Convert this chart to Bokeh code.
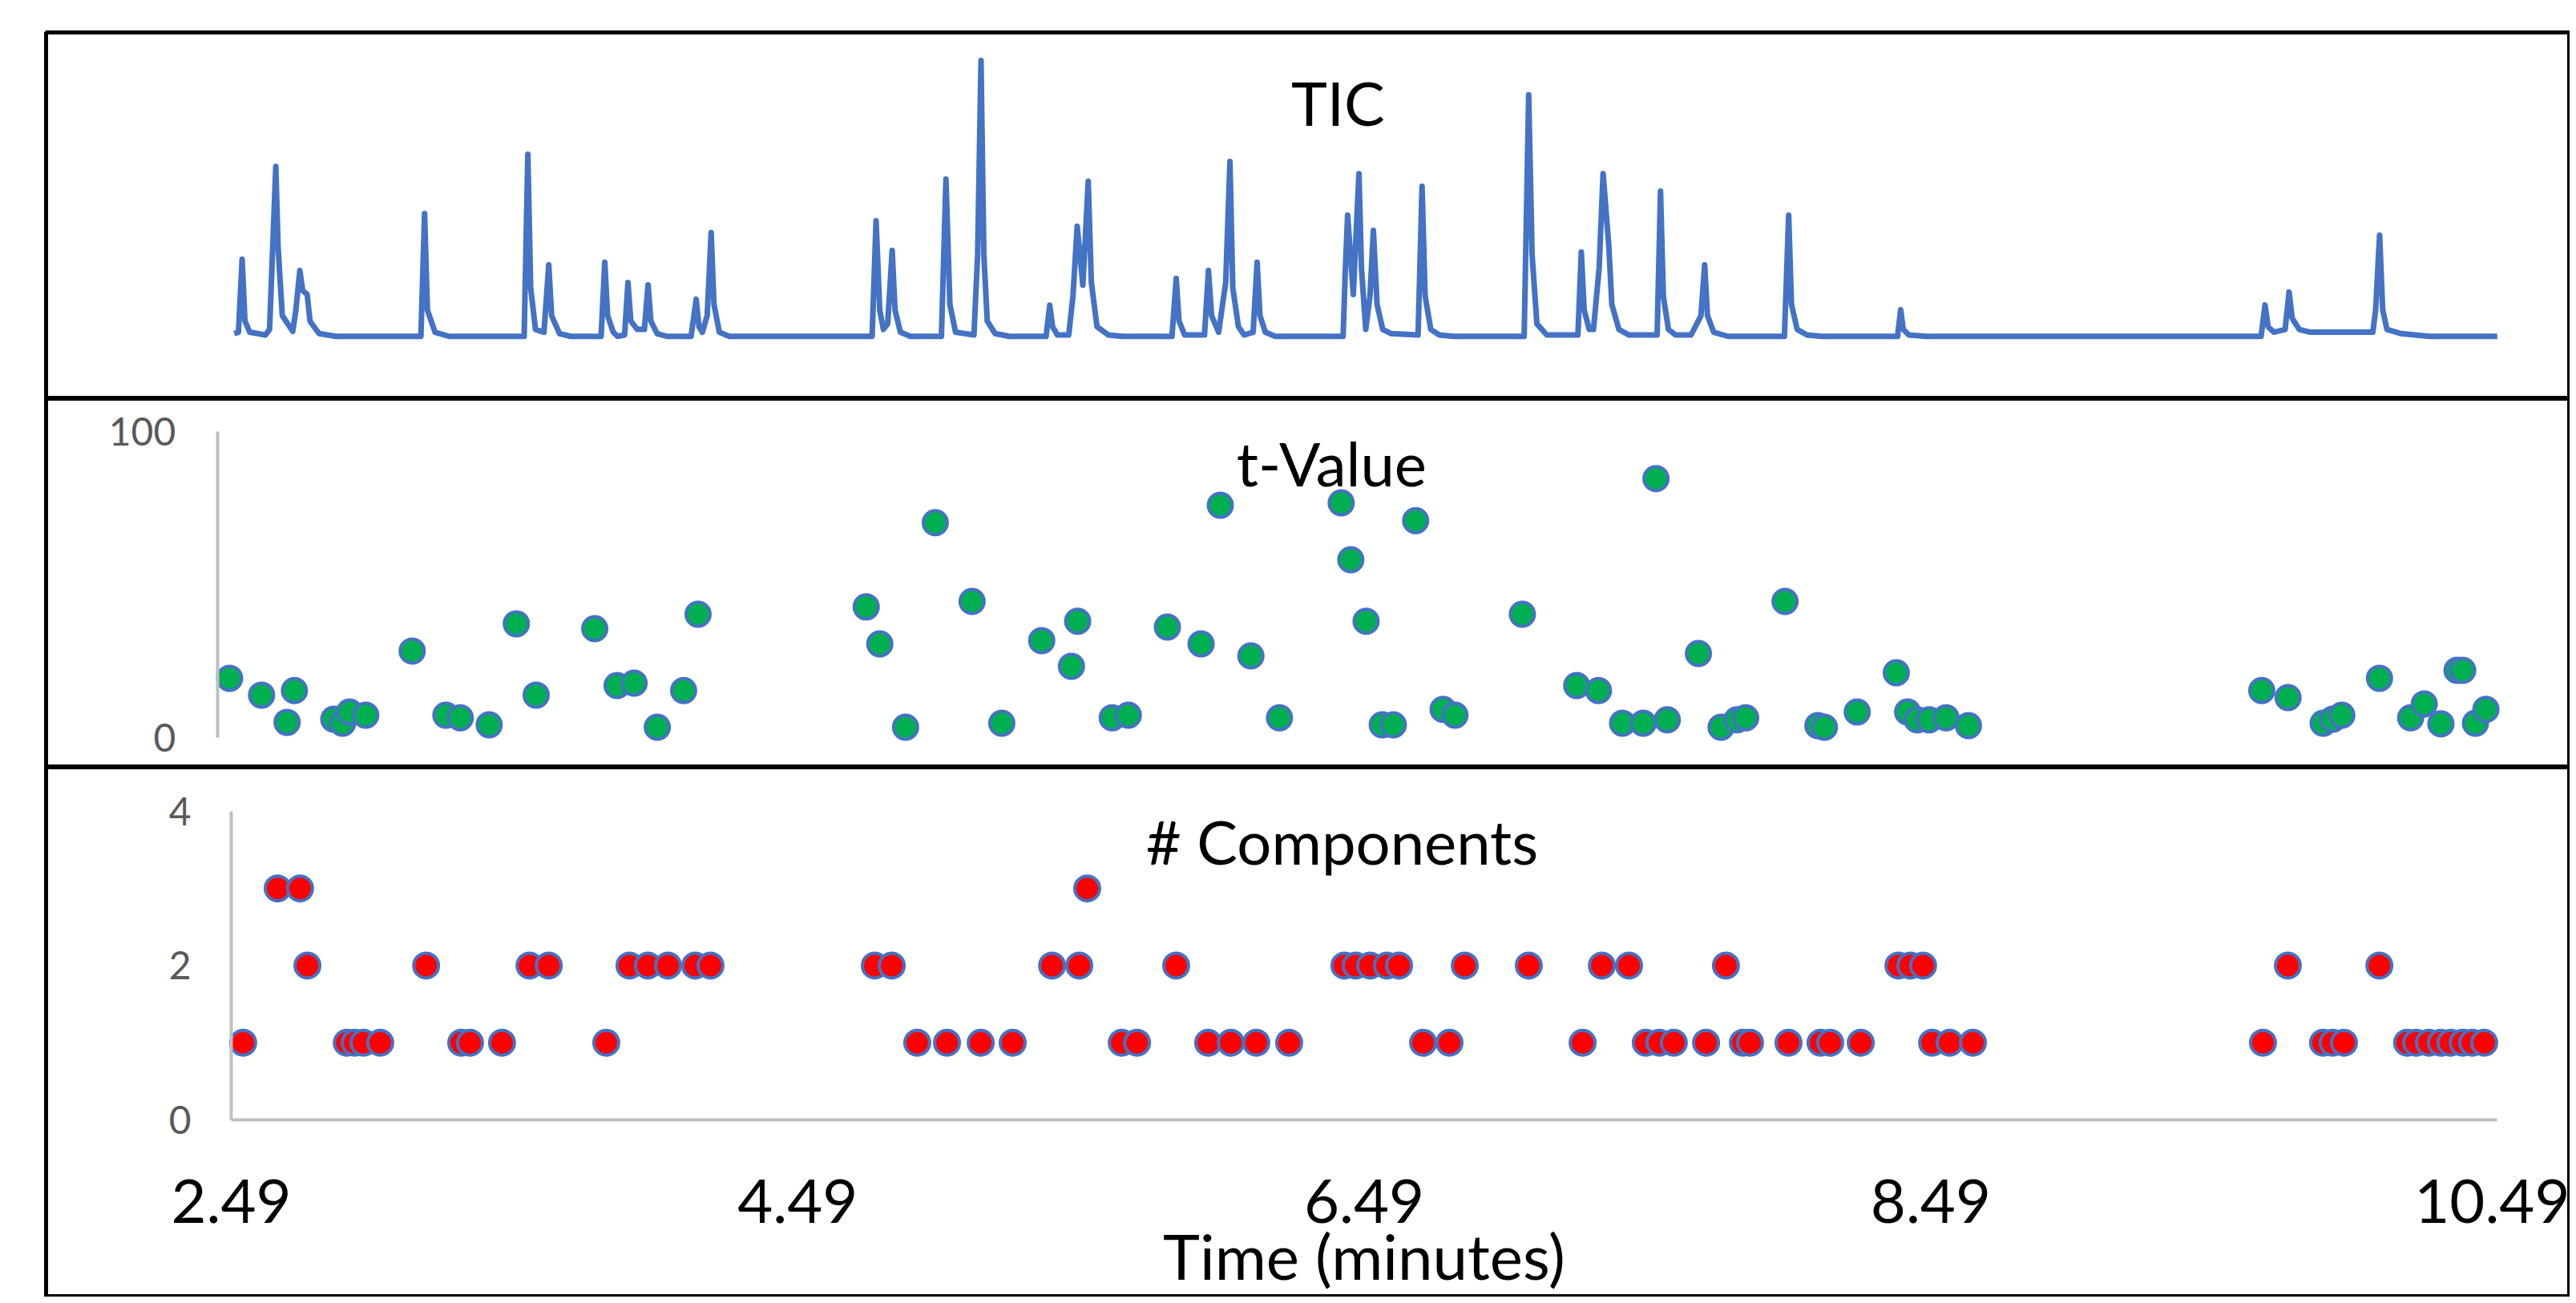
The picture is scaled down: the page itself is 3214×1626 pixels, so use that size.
from bokeh.plotting import figure
from bokeh.models import Range1d, LinearAxis, FixedTicker, Label
from bokeh.layouts import column
from bokeh.embed import file_html
from bokeh.resources import INLINE

# ---------------- data ----------------
# TIC trace vertices: time (minutes) and relative intensity
tic_time = [
    2.49, 2.505, 2.518, 2.528, 2.545, 2.60, 2.615, 2.637, 2.645, 2.66, 2.697, 2.708, 2.722, 2.732, 2.748, 2.758, 2.79, 2.85,
    3.15, 3.163, 3.173, 3.20, 3.25,
    3.515, 3.528, 3.538, 3.555, 3.585, 3.602, 3.612, 3.64, 3.68,
    3.787, 3.80, 3.81, 3.83, 3.845, 3.87, 3.882, 3.892, 3.915, 3.94, 3.953, 3.963, 3.985, 4.02,
    4.105, 4.123, 4.133, 4.145, 4.162, 4.176, 4.186, 4.205, 4.24,
    4.745, 4.759, 4.772, 4.785, 4.80, 4.816, 4.826, 4.845, 4.88,
    4.99, 5.006, 5.02, 5.04, 5.105, 5.118, 5.13, 5.14, 5.152, 5.18, 5.23,
    5.36, 5.373, 5.383, 5.40, 5.44, 5.455, 5.47, 5.49, 5.509, 5.52, 5.54, 5.58, 5.63,
    5.805, 5.82, 5.83, 5.85, 5.92, 5.934, 5.945, 5.97, 5.995, 6.01, 6.02, 6.04, 6.06, 6.092, 6.106, 6.116, 6.135, 6.17,
    6.41, 6.418, 6.426, 6.446, 6.466, 6.475, 6.49, 6.505, 6.517, 6.53, 6.55, 6.58, 6.675, 6.689, 6.70, 6.72, 6.75, 6.80,
    7.05, 7.066, 7.078, 7.095, 7.13, 7.24, 7.252, 7.262, 7.28, 7.295, 7.315, 7.329, 7.349, 7.36, 7.385, 7.42,
    7.52, 7.532, 7.542, 7.56, 7.585, 7.64, 7.675, 7.688, 7.698, 7.72, 7.77,
    7.97, 7.985, 7.995, 8.015, 8.05, 8.10,
    8.37, 8.381, 8.39, 8.41, 8.47,
    9.655, 9.669, 9.68, 9.70, 9.74, 9.754, 9.765, 9.79, 9.83,
    10.05, 10.06, 10.074, 10.085, 10.10, 10.15, 10.25, 10.49,
]
tic_intensity = [
    1.5, 2, 28.3, 6, 2, 1, 3, 61.8, 33, 8, 2.3, 10, 24.3, 17, 15.6, 6, 1.5, 0.5,
    0.5, 44.8, 10, 2, 0.5,
    0.5, 66.2, 18, 3, 2, 26.3, 8, 1.5, 0.5,
    0.5, 27.2, 8, 2, 0.5, 1, 19.9, 6, 3, 3, 19.1, 6, 1.5, 0.5,
    0.5, 13.9, 4, 2, 8, 37.9, 12, 2, 0.5,
    0.5, 42.2, 10, 3, 5, 31.5, 10, 2, 0.5,
    0.5, 57.2, 12, 2, 1, 30, 100, 30, 6, 1.5, 0.5,
    0.5, 11.8, 4, 1, 1, 15, 40.2, 19, 56.4, 20, 4, 1, 0.5,
    0.5, 21.4, 6, 1, 1, 24.3, 8, 2, 20, 63.6, 18, 4, 1, 2, 27.2, 8, 2, 0.5,
    0.5, 25, 44.2, 15.6, 59.2, 25, 3, 15, 38.7, 12, 3, 1.5, 1, 54.6, 15, 3, 1, 0.5,
    0.5, 87.6, 30, 5, 1, 1, 30.9, 10, 3, 3, 25, 59.2, 33.5, 12, 3, 1,
    1, 52.9, 15, 3, 1, 1, 8, 26.3, 8, 2, 0.5,
    0.5, 44.2, 12, 3, 1, 0.5,
    0.5, 10.1, 3, 1, 0.5,
    0.5, 11.8, 4, 2, 3, 16.5, 7, 3, 2,
    2, 10, 37.0, 10, 3, 1.5, 0.5, 0.5,
]

# t-Value points
tval_time = [
    2.479, 2.592, 2.682, 2.708, 2.847, 2.878, 2.903, 2.960, 3.124, 3.243, 3.294, 3.396, 3.492, 3.562,
    3.769, 3.848, 3.908, 3.990, 4.083, 4.134, 4.728, 4.776, 4.867, 4.972, 5.102, 5.207, 5.348, 5.453,
    5.475, 5.597, 5.654, 5.792, 5.911, 5.979, 6.087, 6.188, 6.406, 6.440, 6.494, 6.551, 6.590, 6.669,
    6.766, 6.808, 7.046, 7.238, 7.315, 7.400, 7.473, 7.518, 7.558, 7.668, 7.748, 7.804, 7.835, 7.974,
    8.090, 8.113, 8.229, 8.367, 8.407, 8.441, 8.483, 8.543, 8.622, 9.658, 9.751, 9.875, 9.909, 9.941,
    10.074, 10.184, 10.232, 10.291, 10.348, 10.368, 10.413, 10.450,
]
tval_value = [
    19.4, 13.9, 5.0, 15.4, 6.0, 4.7, 8.4, 7.3, 28.3, 7.3, 6.5, 4.2, 37.2, 13.9,
    35.6, 17.0, 17.8, 3.4, 15.4, 40.3, 42.7, 30.6, 3.4, 70.2, 44.5, 4.7, 31.7, 23.3,
    38.0, 6.5, 7.3, 36.1, 30.6, 75.9, 26.7, 6.5, 76.7, 58.1, 38.0, 4.2, 4.2, 70.9,
    9.2, 7.3, 40.3, 17.0, 15.4, 4.7, 4.7, 84.6, 5.8, 27.5, 3.4, 5.8, 6.5, 44.5,
    3.9, 3.4, 8.4, 21.2, 8.4, 5.8, 5.8, 6.5, 3.9, 15.4, 13.1, 4.7, 6.0, 7.3,
    19.4, 6.5, 11.0, 4.5, 22.0, 22.0, 4.7, 9.2,
]

# number of components
comp_time = [
    2.654, 2.733, 5.512,
    2.759, 3.178, 3.543, 3.611, 3.896, 3.961, 4.032, 4.128, 4.182, 4.762, 4.822, 5.388, 5.484, 5.826,
    6.420, 6.460, 6.511, 6.570, 6.613, 6.845, 7.071, 7.329, 7.425, 7.767, 8.376, 8.418, 8.463, 9.751, 10.074,
    2.532, 2.898, 2.926, 2.957, 3.016, 3.302, 3.333, 3.446, 3.814, 4.912, 5.017, 5.136, 5.249, 5.634,
    5.688, 5.939, 6.019, 6.109, 6.225, 6.698, 6.791, 7.261, 7.484, 7.532, 7.583, 7.697, 7.827, 7.852,
    7.988, 8.101, 8.135, 8.243, 8.495, 8.557, 8.639, 9.663, 9.875, 9.909, 9.949, 10.172, 10.204, 10.249,
    10.291, 10.325, 10.368, 10.402, 10.444,
]
comp_count = [
    3, 3, 3,
    2, 2, 2, 2, 2, 2, 2, 2, 2, 2, 2, 2, 2, 2,
    2, 2, 2, 2, 2, 2, 2, 2, 2, 2, 2, 2, 2, 2, 2,
    1, 1, 1, 1, 1, 1, 1, 1, 1, 1, 1, 1, 1, 1,
    1, 1, 1, 1, 1, 1, 1, 1, 1, 1, 1, 1, 1, 1,
    1, 1, 1, 1, 1, 1, 1, 1, 1, 1, 1, 1, 1, 1,
    1, 1, 1, 1, 1,
]

x_ticks = [2.49, 4.49, 6.49, 8.49, 10.49]
x_tick_labels = ["2.49", "4.49", "6.49", "8.49", "10.49"]
tval_ticks = [0, 100]
comp_ticks = [0, 2, 4]

titles = ["TIC", "t-Value", "# Components"]
x_title = "Time (minutes)"

# ---------------- styling ----------------
FONT = "Lato"
BLUE = "#4472c4"
GREEN = "#00b050"
RED = "#ff0000"
AXIS_GRAY = "#bfbfbf"
LABEL_GRAY = "#595959"
W = 3206


def panel(height, mb_left, mb_top, x_start, y_start, y_end):
    p = figure(width=W, height=height,
               x_range=Range1d(x_start, 10.747), y_range=Range1d(y_start, y_end),
               x_axis_type=None, y_axis_type=None,
               toolbar_location=None, output_backend="svg",
               min_border_left=mb_left, min_border_right=0,
               min_border_top=mb_top, min_border_bottom=0)
    p.outline_line_color = "black"
    p.outline_line_width = 5
    p.outline_line_alpha = 1.0
    p.background_fill_color = "white"
    p.border_fill_color = "white"
    return p


def y_axis(loc, lo, hi, ticks, standoff):
    ax = LinearAxis(fixed_location=loc, bounds=(lo, hi), ticker=FixedTicker(ticks=ticks))
    ax.axis_line_color = AXIS_GRAY
    ax.axis_line_width = 4
    ax.major_tick_line_color = None
    ax.minor_tick_line_color = None
    ax.major_tick_out = 0
    ax.major_tick_in = 0
    ax.major_label_text_font = FONT
    ax.major_label_text_font_size = "48px"
    ax.major_label_text_color = LABEL_GRAY
    ax.major_label_standoff = standoff
    return ax


# ---- TIC ----
p1 = panel(497, 53, 40, 1.825, -21.97, 110.1)
p1.line(tic_time, tic_intensity, line_color=BLUE, line_width=7, line_join="round")
p1.add_layout(Label(x=6.392, y=85, text=titles[0], text_align="center", text_baseline="middle",
                    text_font=FONT, text_font_size="76px", text_color="black"))

# ---- t-Value ----
p2 = panel(460, 55, 0, 1.8307, -9.69, 110.73)
p2.add_layout(y_axis(2.436, 0, 100, tval_ticks, 52), "left")
p2.scatter(tval_time, tval_value, size=30, fill_color=GREEN, line_color=BLUE, line_width=4)
p2.add_layout(Label(x=6.372, y=89.8, text=titles[1], text_align="center", text_baseline="middle",
                    text_font=FONT, text_font_size="76px", text_color="black"))

# ---- # Components ----
p3 = panel(661, 57, 0, 1.8363, -2.296, 4.571)
p3.add_layout(y_axis(2.49, 0, 4, comp_ticks, 50), "left")
xa = LinearAxis(fixed_location=0, bounds=(2.49, 10.49), ticker=FixedTicker(ticks=x_ticks))
xa.major_label_overrides = {t: s for t, s in zip(x_ticks, x_tick_labels)}
xa.axis_line_color = AXIS_GRAY
xa.axis_line_width = 4
xa.major_tick_line_color = None
xa.minor_tick_line_color = None
xa.major_tick_out = 0
xa.major_tick_in = 0
xa.major_label_text_font = FONT
xa.major_label_text_font_size = "76px"
xa.major_label_text_color = "black"
xa.major_label_standoff = 75
xa.axis_label = x_title
xa.axis_label_text_font = FONT
xa.axis_label_text_font_size = "78px"
xa.axis_label_text_font_style = "normal"
xa.axis_label_text_color = "black"
xa.axis_label_standoff = -10
p3.add_layout(xa, "below")
p3.scatter(comp_time, comp_count, size=31, fill_color=RED, line_color=BLUE, line_width=4)
p3.add_layout(Label(x=6.412, y=3.616, text=titles[2], text_align="center", text_baseline="middle",
                    text_font=FONT, text_font_size="76px", text_color="black"))

layout = column(p1, p2, p3, spacing=0)
open("out.html", "w").write(file_html(layout, INLINE))
